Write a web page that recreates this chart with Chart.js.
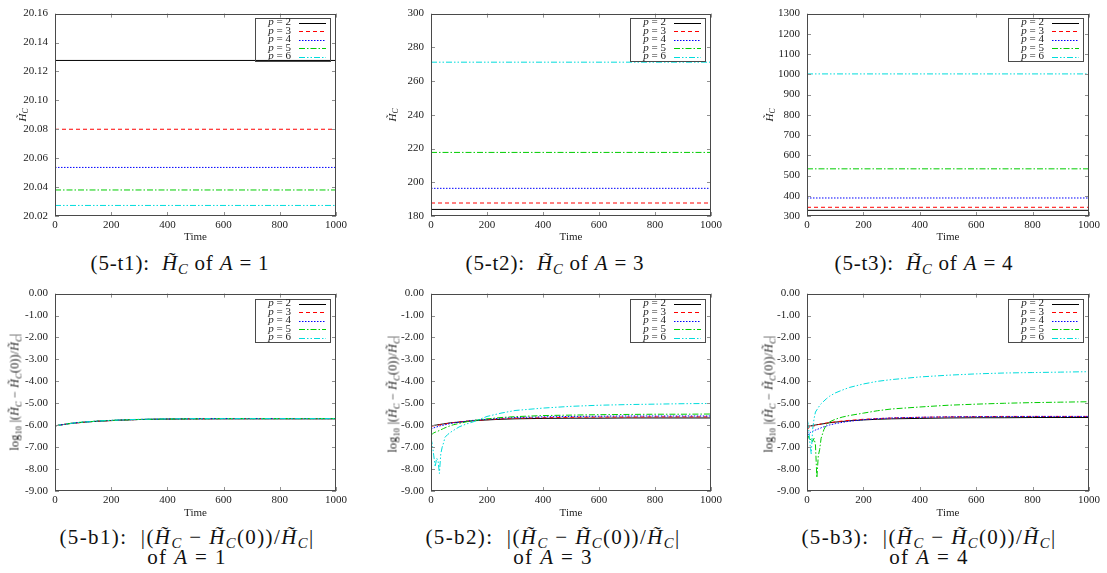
<!DOCTYPE html>
<html>
<head>
<meta charset="utf-8">
<script src="https://cdn.jsdelivr.net/npm/chart.js@4/dist/chart.umd.min.js"></script>
<style>
body { margin: 0; background: #fff; }
#page { position: relative; width: 1107px; height: 573px; overflow: hidden; font-family: "Liberation Serif", "DejaVu Serif", serif; color: #111; }
canvas { position: absolute; }
.ytitle { position: absolute; transform: translate(-50%, -50%) rotate(-90deg); white-space: nowrap; font-size: 11px; color: #222; }
.ytitle.long { font-size: 12px; letter-spacing: 0.2px; }
.caption { position: absolute; transform: translate(-50%, -50%); white-space: nowrap; font-size: 21px; letter-spacing: 0.8px; text-align: center; line-height: 20px; }
.caption.wide { letter-spacing: 1.4px; }
sub { font-size: 70%; vertical-align: -0.3em; line-height: 0; }
</style>
</head>
<body>
<div id="page">
  <canvas id="t1" width="350" height="244" style="left:0;top:0"></canvas>
  <canvas id="t2" width="355" height="244" style="left:370px;top:0"></canvas>
  <canvas id="t3" width="370" height="244" style="left:737px;top:0"></canvas>
  <canvas id="b1" width="350" height="240" style="left:0;top:280px"></canvas>
  <canvas id="b2" width="355" height="240" style="left:370px;top:280px"></canvas>
  <canvas id="b3" width="370" height="240" style="left:737px;top:280px"></canvas>

  <div class="ytitle" style="left:22px;top:115px"><i>H&#771;</i><sub><i>C</i></sub></div>
  <div class="ytitle" style="left:392px;top:115px"><i>H&#771;</i><sub><i>C</i></sub></div>
  <div class="ytitle" style="left:769px;top:115px"><i>H&#771;</i><sub><i>C</i></sub></div>
  <div class="ytitle long" style="left:15px;top:392px">log<sub>10</sub> |(<i>H&#771;</i><sub><i>C</i></sub> &minus; <i>H&#771;</i><sub><i>C</i></sub>(0))/<i>H&#771;</i><sub><i>C</i></sub>|</div>
  <div class="ytitle long" style="left:393px;top:394px">log<sub>10</sub> |(<i>H&#771;</i><sub><i>C</i></sub> &minus; <i>H&#771;</i><sub><i>C</i></sub>(0))/<i>H&#771;</i><sub><i>C</i></sub>|</div>
  <div class="ytitle long" style="left:769px;top:394px">log<sub>10</sub> |(<i>H&#771;</i><sub><i>C</i></sub> &minus; <i>H&#771;</i><sub><i>C</i></sub>(0))/<i>H&#771;</i><sub><i>C</i></sub>|</div>

  <div class="caption" style="left:180px;top:263px">(5-t1): &nbsp;<i>H&#771;</i><sub><i>C</i></sub> of <i>A</i> = 1</div>
  <div class="caption" style="left:555px;top:263px">(5-t2): &nbsp;<i>H&#771;</i><sub><i>C</i></sub> of <i>A</i> = 3</div>
  <div class="caption" style="left:924px;top:263px">(5-t3): &nbsp;<i>H&#771;</i><sub><i>C</i></sub> of <i>A</i> = 4</div>
  <div class="caption wide" style="left:187px;top:547px">(5-b1): &nbsp;|(<i>H&#771;</i><sub><i>C</i></sub> &minus; <i>H&#771;</i><sub><i>C</i></sub>(0))/<i>H&#771;</i><sub><i>C</i></sub>|<br>of <i>A</i> = 1</div>
  <div class="caption wide" style="left:553px;top:547px">(5-b2): &nbsp;|(<i>H&#771;</i><sub><i>C</i></sub> &minus; <i>H&#771;</i><sub><i>C</i></sub>(0))/<i>H&#771;</i><sub><i>C</i></sub>|<br>of <i>A</i> = 3</div>
  <div class="caption wide" style="left:929px;top:547px">(5-b3): &nbsp;|(<i>H&#771;</i><sub><i>C</i></sub> &minus; <i>H&#771;</i><sub><i>C</i></sub>(0))/<i>H&#771;</i><sub><i>C</i></sub>|<br>of <i>A</i> = 4</div>
</div>

<script>
// series names
const pLabels = ['p = 2', 'p = 3', 'p = 4', 'p = 5', 'p = 6'];

// top row: H_C stays flat over time
const timeEnds = [0, 1000];
const hcA1 = [20.1276, 20.0800, 20.0536, 20.0380, 20.0273];
const hcA3 = [183.9, 187.7, 196.4, 217.7, 271.2];
const hcA4 = [328, 343, 389, 533, 1002];

// bottom row: log10 relative error
const relTimes = [0, 5, 10, 15, 20, 25, 30, 35, 40, 45, 50, 60, 70, 80, 100, 125, 150, 200, 250, 300, 400, 500, 600, 700, 800, 900, 1000];

const relA1p2 = [-6.03, -6.02, -6.01, -6.00, -5.99, -5.98, -5.97, -5.96, -5.95, -5.94, -5.93, -5.92, -5.90, -5.89, -5.87, -5.84, -5.82, -5.79, -5.76, -5.74, -5.72, -5.71, -5.71, -5.71, -5.71, -5.71, -5.71];
const relA1p3 = [-6.03, -6.02, -6.01, -6.00, -5.99, -5.98, -5.97, -5.96, -5.95, -5.94, -5.93, -5.91, -5.90, -5.89, -5.87, -5.84, -5.82, -5.79, -5.76, -5.74, -5.72, -5.71, -5.70, -5.70, -5.70, -5.70, -5.70];
const relA1p4 = [-6.03, -6.02, -6.01, -6.00, -5.99, -5.98, -5.97, -5.96, -5.95, -5.94, -5.93, -5.91, -5.90, -5.88, -5.86, -5.84, -5.82, -5.78, -5.76, -5.74, -5.72, -5.71, -5.70, -5.70, -5.70, -5.70, -5.70];
const relA1p5 = [-6.03, -6.02, -6.01, -6.00, -5.99, -5.98, -5.97, -5.96, -5.95, -5.94, -5.93, -5.91, -5.90, -5.88, -5.86, -5.84, -5.81, -5.78, -5.76, -5.74, -5.72, -5.71, -5.70, -5.70, -5.70, -5.70, -5.70];
const relA1p6 = [-6.02, -6.02, -6.01, -6.00, -5.99, -5.98, -5.97, -5.96, -5.95, -5.94, -5.93, -5.91, -5.89, -5.88, -5.86, -5.84, -5.81, -5.78, -5.75, -5.73, -5.71, -5.70, -5.70, -5.70, -5.70, -5.70, -5.70];

const relA3p2 = [-6.03, -6.02, -6.01, -6.00, -5.99, -5.98, -5.97, -5.96, -5.95, -5.94, -5.93, -5.91, -5.89, -5.88, -5.86, -5.83, -5.80, -5.76, -5.73, -5.71, -5.69, -5.68, -5.68, -5.67, -5.67, -5.67, -5.67];
const relA3p3 = [-6.06, -6.04, -6.03, -6.02, -6.01, -6.00, -5.99, -5.98, -5.97, -5.96, -5.95, -5.92, -5.90, -5.88, -5.85, -5.82, -5.79, -5.75, -5.71, -5.68, -5.66, -5.64, -5.63, -5.63, -5.62, -5.62, -5.62];
const relA3p4 = [-6.18, -6.15, -6.12, -6.10, -6.08, -6.06, -6.04, -6.02, -6.01, -6.00, -5.98, -5.95, -5.92, -5.90, -5.86, -5.82, -5.78, -5.73, -5.68, -5.65, -5.62, -5.60, -5.59, -5.58, -5.58, -5.58, -5.58];
const relA3p5 = [-6.45, -6.40, -6.35, -6.32, -6.30, -6.27, -6.24, -6.21, -6.18, -6.15, -6.12, -6.07, -6.02, -5.98, -5.92, -5.85, -5.79, -5.71, -5.65, -5.61, -5.56, -5.54, -5.52, -5.51, -5.50, -5.50, -5.49];
const relA3p6 = [-6.60, -6.90, -7.40, -7.90, -7.50, -7.60, -8.20, -7.30, -7.00, -6.80, -6.55, -6.42, -6.32, -6.24, -6.08, -5.95, -5.85, -5.60, -5.45, -5.33, -5.22, -5.14, -5.09, -5.06, -5.04, -5.02, -5.01];

const relA4p2 = [-6.05, -6.04, -6.03, -6.02, -6.01, -6.00, -5.99, -5.98, -5.97, -5.96, -5.95, -5.93, -5.91, -5.89, -5.86, -5.83, -5.80, -5.76, -5.73, -5.71, -5.69, -5.67, -5.66, -5.66, -5.65, -5.65, -5.65];
const relA4p3 = [-6.10, -6.15, -6.05, -6.10, -6.02, -6.04, -6.00, -5.98, -5.97, -5.96, -5.94, -5.92, -5.90, -5.88, -5.85, -5.81, -5.78, -5.73, -5.70, -5.67, -5.64, -5.62, -5.61, -5.60, -5.60, -5.60, -5.60];
const relA4p4 = [-6.15, -6.45, -6.35, -6.30, -6.28, -6.25, -6.22, -6.20, -6.17, -6.15, -6.12, -6.07, -6.03, -5.99, -5.93, -5.87, -5.82, -5.75, -5.70, -5.67, -5.64, -5.62, -5.61, -5.61, -5.60, -5.60, -5.60];
const relA4p5 = [-6.60, -6.50, -6.70, -6.60, -6.75, -6.60, -6.90, -8.40, -7.40, -7.10, -6.60, -6.20, -5.95, -5.85, -5.73, -5.63, -5.56, -5.45, -5.34, -5.26, -5.17, -5.09, -5.04, -5.00, -4.97, -4.95, -4.93];
const relA4p6 = [-5.70, -6.00, -6.80, -7.30, -6.20, -5.70, -5.40, -5.30, -5.20, -5.10, -5.02, -4.90, -4.78, -4.68, -4.53, -4.40, -4.28, -4.12, -4.00, -3.92, -3.80, -3.72, -3.66, -3.62, -3.60, -3.58, -3.56];

// gnuplot-like line types
const lineStyles = [
    { color: '#000000', dash: [] },
    { color: '#ff0000', dash: [4, 3] },
    { color: '#0000ff', dash: [1.5, 1.5] },
    { color: '#00cc00', dash: [6, 2, 1.5, 2] },
    { color: '#00dcdc', dash: [6, 2, 1.5, 2, 1.5, 2] },
];

const serif = '"Liberation Serif", "DejaVu Serif", serif';
const tickFont = { family: serif, size: 11 };
const inkColor = '#222';

// border box + inward ticks on all four sides
const frameTicks = {
    id: 'frameTicks',
    afterDatasetsDraw(chart) {
        const { ctx, chartArea: a, scales } = chart;
        ctx.save();
        ctx.strokeStyle = '#909090';
        ctx.lineWidth = 1;
        ctx.setLineDash([]);
        ctx.beginPath();
        for (const t of scales.x.ticks) {
            const px = Math.round(scales.x.getPixelForValue(t.value)) + 0.5;
            ctx.moveTo(px, a.bottom); ctx.lineTo(px, a.bottom - 4);
            ctx.moveTo(px, a.top); ctx.lineTo(px, a.top + 4);
        }
        for (const t of scales.y.ticks) {
            const py = Math.round(scales.y.getPixelForValue(t.value)) + 0.5;
            ctx.moveTo(a.left, py); ctx.lineTo(a.left + 4, py);
            ctx.moveTo(a.right, py); ctx.lineTo(a.right - 4, py);
        }
        ctx.stroke();
        ctx.strokeStyle = '#4a4a4a';
        ctx.strokeRect(Math.round(a.left) + 0.5, Math.round(a.top) + 0.5,
            Math.round(a.right - a.left) - 1, Math.round(a.bottom - a.top) - 1);
        ctx.restore();
    }
};

// key in the upper right: text first, then the line sample
const gnuKey = {
    id: 'gnuKey',
    afterDatasetsDraw(chart, args, opts) {
        const { ctx, chartArea: a } = chart;
        const w = 75, h = 43;
        const left = Math.round(a.right) - 6 - w;
        const top = Math.round(a.top) + opts.offsetTop;
        ctx.save();
        ctx.strokeStyle = '#4a4a4a';
        ctx.lineWidth = 1;
        ctx.strokeRect(left + 0.5, top + 0.5, w, h);
        ctx.textBaseline = 'middle';
        ctx.textAlign = 'right';
        chart.data.datasets.forEach((ds, i) => {
            const y = top + 4.5 + i * opts.rowGap;
            const rest = ds.label.slice(1);
            ctx.fillStyle = inkColor;
            ctx.font = '11px ' + serif;
            ctx.fillText(rest, left + 36, y);
            const rw = ctx.measureText(rest).width;
            ctx.font = 'italic 11px ' + serif;
            ctx.fillText(ds.label[0], left + 36 - rw, y);
            ctx.strokeStyle = ds.borderColor;
            ctx.setLineDash(ds.borderDash);
            ctx.beginPath();
            ctx.moveTo(left + 44, Math.round(y) + 0.5);
            ctx.lineTo(left + 71, Math.round(y) + 0.5);
            ctx.stroke();
        });
        ctx.restore();
    }
};

function buildSeries(times, seriesList) {
    return seriesList.map((vals, i) => ({
        label: pLabels[i],
        data: times.map((t, k) => ({ x: t, y: Array.isArray(vals) ? vals[k] : vals })),
        borderColor: lineStyles[i].color,
        borderDash: lineStyles[i].dash,
        borderWidth: 1,
        pointRadius: 0,
        tension: 0,
        order: 5 - i,
    }));
}

// box = canvas size, area = plot frame inside that canvas
function drawPane(id, box, area, yAxis, datasets, keyOpts) {
    return new Chart(document.getElementById(id), {
        type: 'line',
        data: { datasets: datasets },
        options: {
            responsive: false,
            animation: false,
            events: [],
            layout: { padding: { top: area.top, right: box.w - area.right, left: 0, bottom: 0 } },
            plugins: {
                legend: { display: false },
                tooltip: { enabled: false },
                gnuKey: keyOpts,
            },
            scales: {
                x: {
                    type: 'linear',
                    min: 0,
                    max: 1000,
                    ticks: { stepSize: 200, font: tickFont, color: inkColor, padding: 3, maxRotation: 0, callback: v => String(v) },
                    grid: { display: false, drawTicks: false },
                    border: { display: false },
                    title: { display: true, text: 'Time', font: tickFont, color: inkColor, padding: 0 },
                    afterFit: s => { s.height = box.h - area.bottom; },
                },
                y: {
                    type: 'linear',
                    min: yAxis.min,
                    max: yAxis.max,
                    ticks: {
                        stepSize: yAxis.step,
                        font: tickFont,
                        color: inkColor,
                        padding: 7,
                        callback: v => v.toFixed(yAxis.dec),
                    },
                    grid: { display: false, drawTicks: false },
                    border: { display: false },
                    afterFit: s => { s.width = area.left; },
                },
            },
        },
        plugins: [frameTicks, gnuKey],
    });
}

const topKey = { offsetTop: 4, rowGap: 8.5 };
const botKey = { offsetTop: 5, rowGap: 8.5 };
const relY = { min: -9, max: 0, step: 1, dec: 2 };

function drawAll() {
    Chart.defaults.font.family = serif;
    drawPane('t1', { w: 350, h: 244 }, { left: 55, right: 338, top: 13, bottom: 216 },
        { min: 20.02, max: 20.16, step: 0.02, dec: 2 }, buildSeries(timeEnds, hcA1), topKey);
    drawPane('t2', { w: 355, h: 244 }, { left: 61, right: 343, top: 13, bottom: 216 },
        { min: 180, max: 300, step: 20, dec: 0 }, buildSeries(timeEnds, hcA3), topKey);
    drawPane('t3', { w: 370, h: 244 }, { left: 70, right: 352, top: 13, bottom: 216 },
        { min: 300, max: 1300, step: 100, dec: 0 }, buildSeries(timeEnds, hcA4), topKey);

    drawPane('b1', { w: 350, h: 240 }, { left: 55, right: 338, top: 8, bottom: 211 },
        relY, buildSeries(relTimes, [relA1p2, relA1p3, relA1p4, relA1p5, relA1p6]), botKey);
    drawPane('b2', { w: 355, h: 240 }, { left: 61, right: 343, top: 8, bottom: 211 },
        relY, buildSeries(relTimes, [relA3p2, relA3p3, relA3p4, relA3p5, relA3p6]), botKey);
    drawPane('b3', { w: 370, h: 240 }, { left: 70, right: 352, top: 8, bottom: 211 },
        relY, buildSeries(relTimes, [relA4p2, relA4p3, relA4p4, relA4p5, relA4p6]), botKey);
}

// make sure the serif faces are ready before the canvases use them
Promise.all([
    document.fonts.load('11px "Liberation Serif"'),
    document.fonts.load('italic 11px "Liberation Serif"'),
]).catch(() => {}).then(drawAll);
</script>
</body>
</html>
